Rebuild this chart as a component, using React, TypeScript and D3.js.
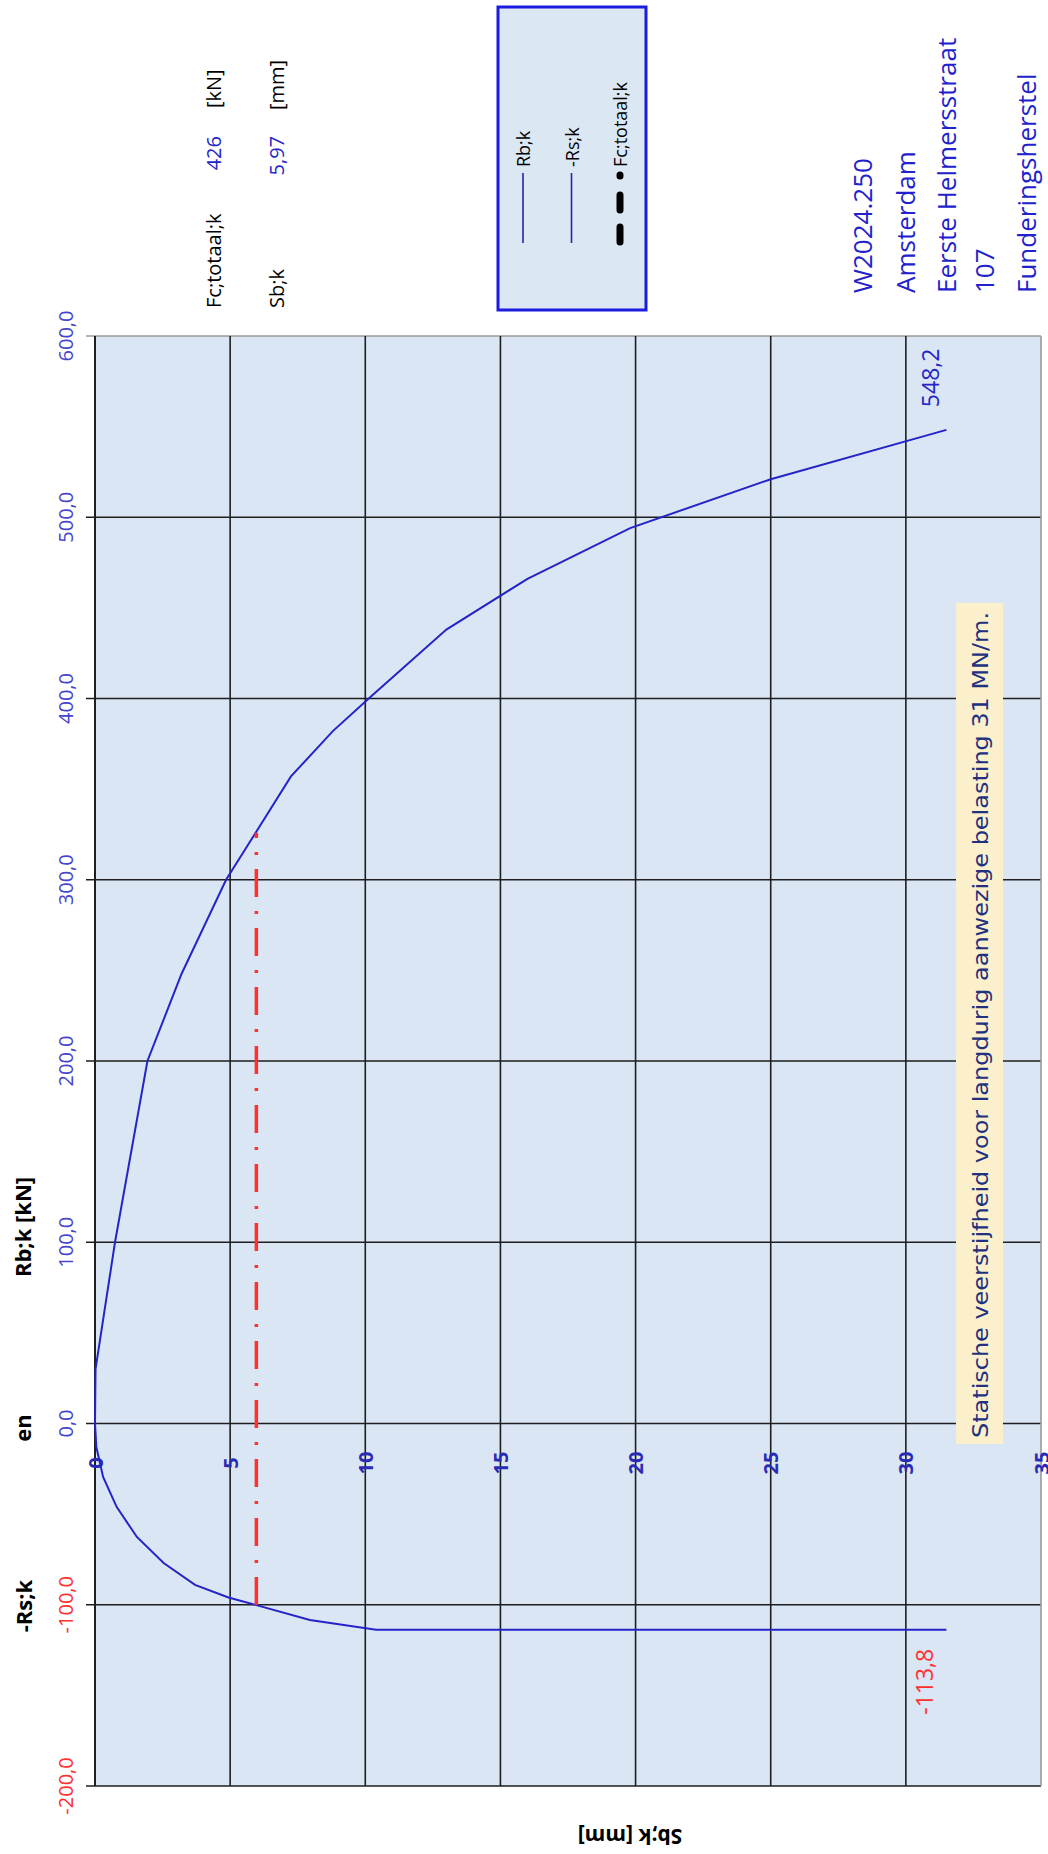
import { scaleLinear, line as d3line } from "d3";

// settlement Sb;k [mm] vs resistance [kN]; chart is drawn turned a quarter turn
const RB_CURVE: [number, number][] = [
  [0, 0], [0.02, 30], [0.74, 100], [1.94, 200], [3.2, 248], [4.85, 300],
  [7.25, 357], [8.8, 382], [10.2, 401], [13.0, 438], [16.0, 466],
  [19.8, 494], [25.0, 521], [31.5, 548.2],
];
const RS_CURVE: [number, number][] = [
  [0, 0], [0.05, -13], [0.3, -29.5], [0.8, -46], [1.55, -62.6], [2.54, -77],
  [3.7, -89], [4.94, -96], [5.97, -100.2], [7.95, -108.4], [10.4, -113.8],
  [31.5, -113.8],
];
const FC_LINE: [number, number][] = [[5.97, -100.2], [5.97, 326]];
const KN_TICKS = [-200, -100, 0, 100, 200, 300, 400, 500, 600];
const SB_TICKS = [0, 5, 10, 15, 20, 25, 30, 35];
const PROJECT = ["W2024.250", "Amsterdam", "Eerste Helmersstraat", "107", "Funderingsherstel"];
const PROJECT_X = [862, 905, 946, 984, 1026];
const LEGEND = ["Rb;k", "-Rs;k", "Fc;totaal;k"];
const FC_TOTAAL = "426";
const SB_K = "5,97";
const NOTE = "Statische veerstijfheid voor langdurig aanwezige belasting 31 MN/m.";

const W = 1048, H = 1854;
const FONT = "'Open Sans', 'Noto Sans', sans-serif";
const BLUE = "#2424c8";
const RED = "#ff3030";

const fmt = (v: number) => v.toFixed(1).replace(".", ",");

function Rot({ x, y, children, anchor = "start", size = 20, fill = "#000", weight = "normal", angle = -90 }:
  { x: number; y: number; children: any; anchor?: string; size?: number; fill?: string; weight?: string; angle?: number }) {
  return (
    <text transform={`translate(${x},${y}) rotate(${angle})`} textAnchor={anchor} dominantBaseline="central"
      fontSize={size} fill={fill} fontWeight={weight} fontFamily={FONT}>{children}</text>
  );
}

export default function App() {
  const sx = scaleLinear().domain([0, 35]).range([95, 1041]);
  const sy = scaleLinear().domain([-200, 600]).range([1786, 336]);
  const path = d3line<[number, number]>().x(d => sx(d[0])).y(d => sy(d[1]));
  const rbEnd = RB_CURVE[RB_CURVE.length - 1];
  const rsEnd = RS_CURVE[RS_CURVE.length - 1];

  return (
    <div style={{ position: "absolute", left: 0, top: 0 }}>
      <svg width={W} height={H} viewBox={`0 0 ${W} ${H}`} style={{ display: "block", background: "#fff" }}>
        {/* plot area */}
        <rect x={sx(0)} y={sy(600)} width={sx(35) - sx(0)} height={sy(-200) - sy(600)} fill="#dbe6f4" />
        {KN_TICKS.map(t => (
          <line key={"h" + t} x1={sx(0) - 9} x2={sx(35)} y1={sy(t)} y2={sy(t)}
            stroke={t === 600 ? "#9a9a9a" : "#1e1e1e"} strokeWidth={1.6} />
        ))}
        {SB_TICKS.map(t => (
          <line key={"v" + t} x1={sx(t)} x2={sx(t)} y1={sy(600)} y2={sy(-200)}
            stroke={t === 35 ? "#9a9a9a" : "#1e1e1e"} strokeWidth={t === 0 ? 2 : 1.6} />
        ))}

        {/* note box */}
        <rect x={956} y={603} width={47} height={841} fill="#fcefcb" />
        <text transform={`translate(980,1438) rotate(-90)`} dominantBaseline="central" fontSize={22}
          fill="#22317f" textLength={826} lengthAdjust="spacingAndGlyphs"
          fontFamily="'DejaVu Sans Condensed', 'Liberation Sans Narrow', sans-serif">{NOTE}</text>

        {/* axis labels */}
        {KN_TICKS.map(t => (
          <Rot key={"kl" + t} x={65} y={sy(t)} anchor="middle" fill={t < 0 ? RED : "#4545cc"}>{fmt(t)}</Rot>
        ))}
        {SB_TICKS.map(t => (
          <Rot key={"sl" + t} x={sx(t)} y={1463} anchor="middle" fill="#2a2ab4" weight="bold">{t}</Rot>
        ))}

        {/* curves */}
        <path d={path(RB_CURVE) ?? ""} fill="none" stroke={BLUE} strokeWidth={2} />
        <path d={path(RS_CURVE) ?? ""} fill="none" stroke={BLUE} strokeWidth={2} />
        <path d={path(FC_LINE) ?? ""} fill="none" stroke={RED} strokeWidth={3.5} strokeDasharray="28 14 3 14" />
        <Rot x={sx(rbEnd[0]) - 16} y={sy(rbEnd[1]) - 52} anchor="middle" size={23} fill={BLUE}>{fmt(rbEnd[1])}</Rot>
        <Rot x={sx(rsEnd[0]) - 22} y={sy(rsEnd[1]) + 52} anchor="middle" size={23} fill={RED}>{fmt(rsEnd[1])}</Rot>

        {/* side titles */}
        <Rot x={22} y={1227} anchor="middle" size={22} weight="bold">Rb;k [kN]</Rot>
        <Rot x={22} y={1428} anchor="middle" size={22} weight="bold">en</Rot>
        <Rot x={23} y={1606} anchor="middle" size={22} weight="bold">-Rs;k</Rot>
        <Rot x={630} y={1837} anchor="middle" size={21} weight="bold" angle={180}>Sb;k [mm]</Rot>

        {/* results */}
        <Rot x={213} y={308}>Fc;totaal;k</Rot>
        <Rot x={213} y={136} anchor="end" fill={BLUE}>{FC_TOTAAL}</Rot>
        <Rot x={213} y={108}>[kN]</Rot>
        <Rot x={276} y={308}>Sb;k</Rot>
        <Rot x={276} y={136} anchor="end" fill={BLUE}>{SB_K}</Rot>
        <Rot x={276} y={110}>[mm]</Rot>

        {/* legend */}
        <rect x={498} y={7} width={148} height={303} fill="#dce7f4" stroke="#1c1ce0" strokeWidth={3} />
        {LEGEND.map((name, i) => {
          const lx = 523 + i * 48.5;
          return (
            <g key={name}>
              {i < 2
                ? <line x1={lx} x2={lx} y1={243} y2={173} stroke="#2626a6" strokeWidth={1.6} />
                : <line x1={lx} x2={lx} y1={242} y2={172} stroke="#000" strokeWidth={7}
                    strokeLinecap="round" strokeDasharray="15 17 15 19 1 30" />}
              <Rot x={lx} y={167} size={18}>{name}</Rot>
            </g>
          );
        })}

        {/* project */}
        {PROJECT.map((p, i) => (
          <Rot key={p} x={PROJECT_X[i]} y={293} size={26} fill="#2222cc">{p}</Rot>
        ))}
      </svg>
    </div>
  );
}
